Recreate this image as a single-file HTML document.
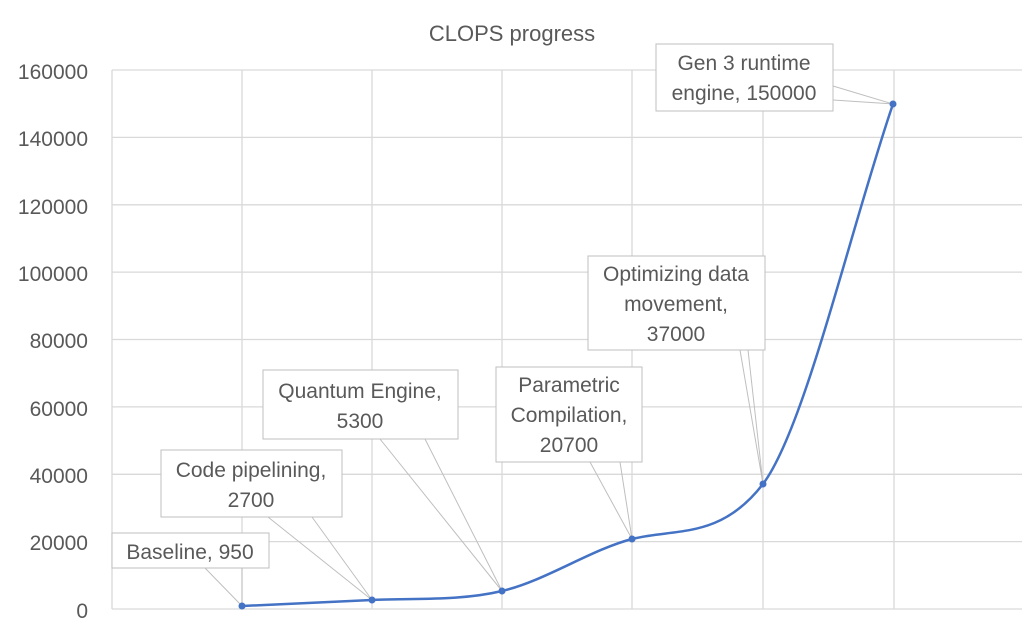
<!DOCTYPE html>
<html><head><meta charset="utf-8"><style>
body{margin:0;background:#fff;}
svg{display:block;font-family:"Liberation Sans",sans-serif;}
</style></head><body>
<svg width="1024" height="639" viewBox="0 0 1024 639">
<rect width="1024" height="639" fill="#fff"/>
<g stroke="#d9d9d9" stroke-width="1.3" fill="none">
<line x1="112" y1="70" x2="1022" y2="70"/>
<line x1="112" y1="137.4" x2="1022" y2="137.4"/>
<line x1="112" y1="204.8" x2="1022" y2="204.8"/>
<line x1="112" y1="272.1" x2="1022" y2="272.1"/>
<line x1="112" y1="339.5" x2="1022" y2="339.5"/>
<line x1="112" y1="406.9" x2="1022" y2="406.9"/>
<line x1="112" y1="474.3" x2="1022" y2="474.3"/>
<line x1="112" y1="541.6" x2="1022" y2="541.6"/>
<line x1="112" y1="609" x2="1022" y2="609"/>
<line x1="112" y1="70" x2="112" y2="609"/>
<line x1="242" y1="70" x2="242" y2="609"/>
<line x1="372" y1="70" x2="372" y2="609"/>
<line x1="502" y1="70" x2="502" y2="609"/>
<line x1="632" y1="70" x2="632" y2="609"/>
<line x1="763" y1="70" x2="763" y2="609"/>
<line x1="894" y1="70" x2="894" y2="609"/>
</g>
<text x="512" y="41" text-anchor="middle" font-size="22" fill="#595959">CLOPS progress</text>
<g font-size="21" fill="#595959" text-anchor="end">
<text x="88" y="79">160000</text>
<text x="88" y="146">140000</text>
<text x="88" y="214">120000</text>
<text x="88" y="281">100000</text>
<text x="88" y="348">80000</text>
<text x="88" y="416">60000</text>
<text x="88" y="483">40000</text>
<text x="88" y="550">20000</text>
<text x="88" y="618">0</text>
</g>
<g stroke="#bfbfbf" stroke-width="1" fill="none">
<polyline points="205,568 242,606 242,568"/>
<polyline points="268,517 372,600 312,517"/>
<polyline points="380,439 502,591 425,439"/>
<polyline points="590,462 632,539 620,462"/>
<polyline points="740,350 763,484 748,350"/>
<polyline points="833,86 893,104 833,100"/>
</g>
<path d="M242,606 C285,604 330,602 372,600 C415,598 460,601 502,591 C545,581 590,550 632,539 C675,528 720,540 763,484 C805,428 850,230 893,104" stroke="#4472c4" stroke-width="2.5" fill="none"/>
<g fill="#4472c4">
<circle cx="242" cy="606" r="3.5"/><circle cx="372" cy="600" r="3.5"/><circle cx="502" cy="591" r="3.5"/>
<circle cx="632" cy="539" r="3.5"/><circle cx="763" cy="484" r="3.5"/><circle cx="893" cy="104" r="3.5"/>
</g>
<g fill="#fff" stroke="#bfbfbf" stroke-width="1">
<rect x="112" y="533" width="157" height="35"/>
<rect x="161" y="450" width="181" height="67"/>
<rect x="263" y="370" width="195" height="69"/>
<rect x="496" y="367" width="146" height="95"/>
<rect x="588" y="256" width="177" height="94"/>
<rect x="656" y="44" width="177" height="67"/>
</g>
<g font-size="21" fill="#595959" text-anchor="middle">
<text x="190" y="559">Baseline, 950</text>
<text x="251" y="477">Code pipelining,</text><text x="251" y="507">2700</text>
<text x="360" y="398">Quantum Engine,</text><text x="360" y="428">5300</text>
<text x="569" y="392">Parametric</text><text x="569" y="422">Compilation,</text><text x="569" y="452">20700</text>
<text x="676" y="281">Optimizing data</text><text x="676" y="311">movement,</text><text x="676" y="341">37000</text>
<text x="744" y="70">Gen 3 runtime</text><text x="744" y="100">engine, 150000</text>
</g>
</svg>
</body></html>
